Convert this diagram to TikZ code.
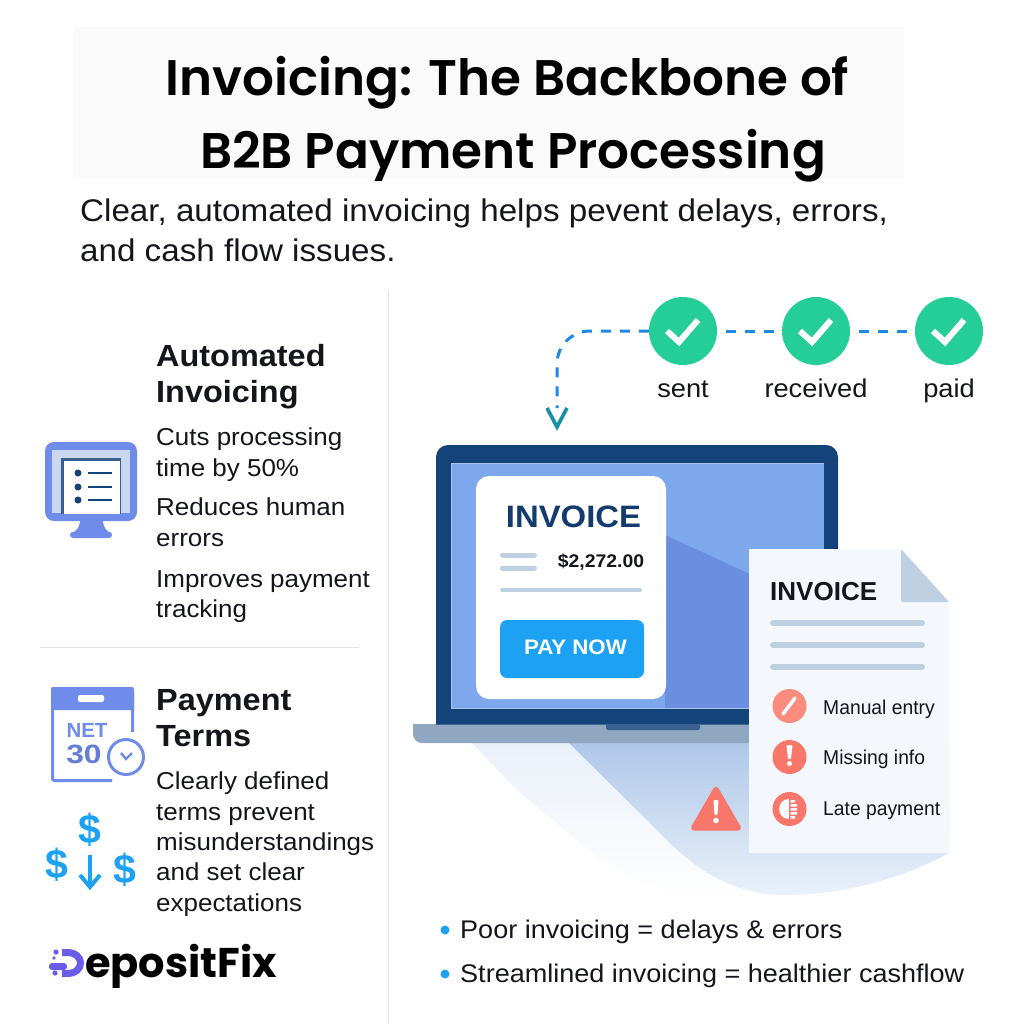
\documentclass[tikz,border=0pt]{standalone}
\usepackage{fontspec}
\setmainfont{Liberation Sans}[FakeStretch=1.06]
\newfontfamily\plainf{Liberation Sans}
\newfontfamily\narrowf{Liberation Sans}[FakeStretch=0.965]
\newfontfamily\titlefont{Poppins SemiBold}
\newfontfamily\logofont{Poppins}
\usetikzlibrary{arrows.meta,shadings,calc}
\definecolor{navy}{HTML}{14437A}
\definecolor{screenA}{HTML}{7EA8EC}
\definecolor{screenB}{HTML}{6B8FE0}
\definecolor{base}{HTML}{8FA7C0}
\definecolor{barc}{HTML}{BFD0E2}
\definecolor{green1}{HTML}{24CE96}
\definecolor{link}{HTML}{1E88E5}
\definecolor{arrowc}{HTML}{1590A8}
\definecolor{sky}{HTML}{1DA1F2}
\definecolor{coral}{HTML}{F9766A}
\definecolor{coralL}{HTML}{FB8B7C}
\definecolor{paper}{HTML}{F4F7FB}
\definecolor{iconb}{HTML}{6F8CEB}
\definecolor{iconl}{HTML}{C9D8EF}
\definecolor{inktext}{HTML}{14161C}
\definecolor{logop}{HTML}{6A5CE8}
\definecolor{shadeA}{HTML}{AEC7E8}
\definecolor{shadeB}{HTML}{EAF1FA}
\definecolor{shadeC}{HTML}{EAF0F9}
\tikzset{
 x=1pt,y=-1pt,
 titleline/.style={inner sep=0pt,text=black,font=\fontsize{50}{73}\selectfont\titlefont},
 body/.style={inner sep=0pt,anchor=north west,align=left,text=inktext,font=\fontsize{24.5}{30.3}\selectfont},
 head/.style={inner sep=0pt,anchor=north west,align=left,text=inktext,font=\fontsize{30.6}{36}\selectfont\bfseries},
 step label/.style={inner sep=0pt,anchor=base,text=inktext,font=\fontsize{25.7}{28}\selectfont},
 check/.style={draw=white,line width=6pt,miter limit=10},
 stepdot/.style={circle,fill=green1,minimum size=68pt,inner sep=0pt},
 linkline/.style={draw=link,line width=3pt,dash pattern=on 10pt off 9pt},
 bar/.style={draw=barc,line width=6pt,line cap=round},
 thinbar/.style={draw=barc,line width=5pt,line cap=round},
 divider/.style={draw=#1,line width=0.8pt},
 item/.style={inner sep=0pt,anchor=base west,text=inktext,font=\fontsize{20}{24}\selectfont\narrowf},
 redot/.style={circle,fill=coral,minimum size=34pt,inner sep=0pt},
 bullet/.style={circle,fill=sky,minimum size=9pt,inner sep=0pt},
 note/.style={inner sep=0pt,anchor=base west,text=inktext,font=\fontsize{25.5}{30}\selectfont},
 dollar/.style={inner sep=0pt,text=sky,font=\fontsize{41}{41}\selectfont\bfseries\plainf},
}
\begin{document}
\begin{tikzpicture}
\useasboundingbox (0,0) rectangle (1024,1024);
\fill[white] (0,0) rectangle (1024,1024);
% title
\fill[black!2!white] (74,27) rectangle (904,179);
\node[titleline] (title1) at (507.5,83) {Invoicing: The Backbone of};
\node[titleline] (title2) at (513,156) {B2B Payment Processing};
\node[body,font=\fontsize{31.3}{40}\selectfont] (subtitle) at (80,199) {Clear, automated invoicing helps pevent delays, errors,\\and cash flow issues.};
% dividers
\draw[divider=barc!60!white] (388.5,291) -- (388.5,1024);
\draw[divider=black!10!white] (40,647) -- (359,647);
% left column
\node[head] (h1) at (156,344) {Automated\\Invoicing};
\node[body] (t1) at (156,428) {Cuts processing\\time by 50\%};
\node[body] (t2) at (156,498) {Reduces human\\errors};
\node[body] (t3) at (156,570) {Improves payment\\tracking};
\node[head] (h2) at (156,689) {Payment\\Terms};
\node[body] (t4) at (156,772) {Clearly defined\\terms prevent\\misunderstandings\\and set clear\\expectations};
% monitor icon
\fill[iconb] (80,519) -- (103,519) .. controls (103,527) and (106,532) .. (112,533) -- (70,533) .. controls (77,532) and (80,527) .. (80,519) -- cycle;
\fill[iconb,rounded corners=3pt] (70,532) rectangle (112,538);
\fill[iconb,rounded corners=9pt] (45,442) rectangle (137,521);
\fill[iconl] (52,450) rectangle (130,513);
\fill[navy!85!white] (61,458) rectangle (121,514);
\fill[white] (64,461) rectangle (120,514);
\foreach \yy in {473,487,500}{
 \fill[navy] (78,\yy) circle (3.5pt);
 \draw[navy,line width=2.4pt] (88,\yy) -- (112,\yy);
}
% calendar icon
\fill[white] (51,687) rectangle (134,782);
\draw[iconb,line width=3pt,rounded corners=2pt] (112,780.5) -- (52.5,780.5) -- (52.5,690) -- (132.5,690) -- (132.5,732);
\fill[iconb,rounded corners=2pt] (51,687) rectangle (134,710);
\fill[white,rounded corners=2pt] (78,695) rectangle (104,702);
\node[inner sep=0pt,text=iconb,font=\fontsize{20.5}{20}\selectfont\bfseries\plainf] (net) at (87,730.5) {NET};
\node[inner sep=0pt,text=iconb!90!black,xscale=1.2,transform shape,font=\fontsize{26.5}{26}\selectfont\bfseries\plainf] (thirty) at (84,754.5) {30};
\fill[white] (126,757) circle (19pt);
\draw[iconb,line width=3pt] (126,757) circle (17.5pt);
\draw[iconb,line width=2.4pt] (121,753) -- (126,759) -- (132,753);
% money icon
\node[dollar] (d1) at (90,830) {\$};
\node[dollar] (d2) at (57,865) {\$};
\node[dollar] (d3) at (125,870) {\$};
\coordinate (ashaft) at (90,855);
\coordinate (atip) at (90,887);
\draw[sky,line width=4pt] (ashaft) -- (atip);
\draw[sky,line width=4pt,line join=miter] (80,875) -- (atip) -- (100,875);
% logo
\node[inner sep=0pt,anchor=base west,font=\fontsize{41.5}{44}\selectfont\logofont\bfseries,text=black] (logo) at (85,977) {epositFix};
\draw[logop,line width=7pt] (62,952.5) -- (67,952.5) .. controls (85,952.5) and (85,973.5) .. (67,973.5) -- (62,973.5);
\fill[logop,rounded corners=3pt] (49,963) rectangle (67,970);
\fill[logop] (56,952) circle (2.6pt) (55,973) circle (2.6pt) (54,958) circle (1.8pt);
% status flow
\node[stepdot] (s1) at (683,331) {};
\node[stepdot] (s2) at (816,331) {};
\node[stepdot] (s3) at (949,331) {};
\foreach \n in {s1,s2,s3}{
 \draw[check] ($(\n)+(-16,0)$) -- ($(\n)+(-4,11)$) -- ($(\n)+(15,-11)$);
}
\node[step label] (l1) at (683,397) {sent};
\node[step label] (l2) at (816,397) {received};
\node[step label] (l3) at (949,397) {paid};
\coordinate (arrowend) at (557,427);
\coordinate (corner) at (590,331);
\draw[linkline] (s1.west) -- (corner) arc (-90:-180:33) -- (557,408);
\draw[linkline,shorten <=9pt,shorten >=6pt] (s1.east) -- (s2.west);
\draw[linkline,shorten <=9pt,shorten >=6pt] (s2.east) -- (s3.west);
\draw[draw=arrowc,line width=3.6pt,line join=miter] (547,408) -- (arrowend) -- (567,408);
% laptop shadow
\shade[top color=shadeC,bottom color=white]
 (472,743) -- (517,790) -- (589,850) .. controls (620,875) and (650,890) .. (700,896) -- (800,896) -- (800,743) -- cycle;
\shade[top color=shadeA,bottom color=shadeB]
 (569,743) -- (660,833) .. controls (690,865) and (730,895) .. (785,895) .. controls (840,895) and (900,880) .. (949,853) -- (949,743) -- cycle;
% laptop
\fill[base] (413,724) [rounded corners=9pt] -- (413,743) -- (860,743) [sharp corners] -- (860,724) -- cycle;
\fill[navy] (436,724.5) [rounded corners=12pt] -- (436,445) -- (838,445) [sharp corners] -- (838,724.5) -- cycle;
\fill[screenA] (451.5,463) rectangle (824,708);
\fill[screenB] (665,535) -- (824,608) -- (824,708) -- (665,708) -- cycle;
\draw[screenA!70!white,line width=0.8pt] (824,708) -- (451.5,708) -- (451.5,463) -- (824,463);
\fill[navy!70!base,rounded corners=2pt] (606,724) rectangle (700,730);
% card
\fill[white,rounded corners=13pt] (476,476) rectangle (666,699);
\node[inner sep=0pt,text=navy!90!black,font=\fontsize{31}{36}\selectfont\bfseries] (inv1) at (573.5,516.5) {INVOICE};
\draw[thinbar] (502.5,555) -- (534.5,555);
\draw[thinbar] (502.5,568) -- (534.5,568);
\draw[thinbar,line width=4pt] (502,590) -- (640,590);
\node[inner sep=0pt,text=inktext,font=\fontsize{18.3}{20}\selectfont\bfseries] (amount) at (601,562) {\$2,272.00};
\node[fill=sky,rounded corners=7pt,minimum width=144pt,minimum height=58pt,inner sep=0pt] (pay) at (572,649) {};
\node[inner sep=0pt,text=white,font=\fontsize{21}{24}\selectfont\bfseries] (paytext) at (575.5,647) {PAY NOW};
% paper
\fill[paper] (749,549) -- (901,549) -- (949,602) -- (949,853) -- (749,853) -- cycle;
\fill[barc,rounded corners=2pt] (901,549) -- (949,602) -- (901,602) -- cycle;
\node[inner sep=0pt,anchor=base west,text=inktext,font=\fontsize{26}{28}\selectfont\bfseries\plainf] (inv2) at (770,600) {INVOICE};
\draw[bar] (773,623) -- (922,623);
\draw[bar] (773,645) -- (922,645);
\draw[bar] (773,667) -- (922,667);
\node[redot,fill=coralL] (r1) at (789.5,706) {};
\node[redot] (r2) at (789.5,757) {};
\node[redot] (r3) at (789.5,809) {};
\draw[white,line width=3.5pt,line cap=round] (783,714) -- (795,698);
\fill[white,rounded corners=1pt] (786.5,745) -- (792.5,745) -- (791,759) -- (788,759) -- cycle;
\fill[white] (789.5,763.5) circle (2.5pt);
\fill[white] (788.5,799) .. controls (776,799) and (776,819) .. (788.5,819) -- cycle;
\fill[white] (790.5,800) rectangle (795,802.5) (790.5,804) rectangle (797,806.5) (790.5,808) rectangle (797,810.5) (790.5,812) rectangle (797,814.5) (790.5,816) rectangle (795,818.5);
\node[item] (i1) at (823,714) {Manual entry};
\node[item] (i2) at (823,764) {Missing info};
\node[item] (i3) at (823,815) {Late payment};
% warning
\fill[coral,rounded corners=5pt] (716,784) -- (743,830.5) -- (689,830.5) -- cycle;
\fill[white,rounded corners=1pt] (713.5,800) -- (718.5,800) -- (717.5,815) -- (714.5,815) -- cycle;
\fill[white] (716,820.5) circle (2.8pt);
% notes
\node[bullet] (b1) at (445,930) {};
\node[bullet] (b2) at (445,974) {};
\node[note] (n1) at (460,938) {Poor invoicing = delays \& errors};
\node[note] (n2) at (460,982) {Streamlined invoicing = healthier cashflow};
\end{tikzpicture}
\end{document}
